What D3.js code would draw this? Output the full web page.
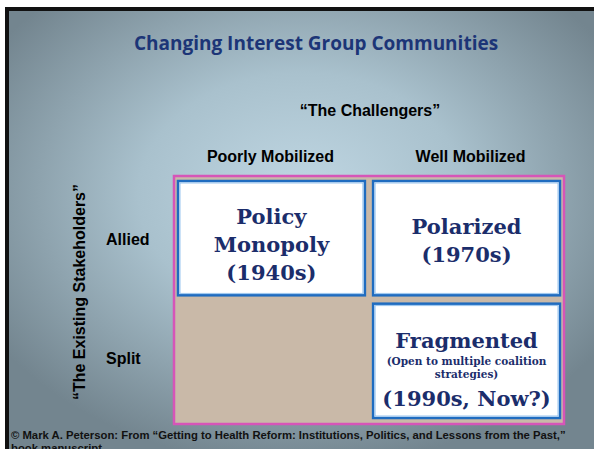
<!DOCTYPE html>
<html>
<head>
<meta charset="utf-8">
<script src="https://cdn.jsdelivr.net/npm/d3@7"></script>
<style>
  body { margin: 0; background: #fff; }
  svg { display: block; }
</style>
</head>
<body>
<svg width="594" height="449"></svg>
<script>
// chart content
const titleText = "Changing Interest Group Communities";
const colTitle = "\u201CThe Challengers\u201D";
const rowTitle = "\u201CThe Existing Stakeholders\u201D";
const columns = ["Poorly Mobilized", "Well Mobilized"];
const rows = ["Allied", "Split"];
const cells = [
  { row: "Allied", col: "Poorly Mobilized", lines: ["Policy", "Monopoly", "(1940s)"], note: [] },
  { row: "Allied", col: "Well Mobilized", lines: ["Polarized", "(1970s)"], note: [] },
  { row: "Split", col: "Well Mobilized", lines: ["Fragmented", "(1990s, Now?)"], note: ["(Open to multiple coalition", "strategies)"] }
];
const footerLines = [
  "\u00A9 Mark A. Peterson:  From \u201CGetting to Health Reform: Institutions, Politics, and Lessons from the Past,\u201D",
  "book manuscript"
];

const svg = d3.select('svg');
const width = +svg.attr('width');
const height = +svg.attr('height');

const defs = svg.append('defs');
const grad = defs.append('radialGradient')
    .attr('id', 'bg')
    .attr('cx', '50%').attr('cy', '42%').attr('r', '62%');
grad.append('stop').attr('offset', '0%').attr('stop-color', '#c0d7e3');
grad.append('stop').attr('offset', '45%').attr('stop-color', '#a9c1cd');
grad.append('stop').attr('offset', '100%').attr('stop-color', '#73858f');

// slide frame
svg.append('rect').attr('x', 5).attr('y', 7).attr('width', width - 5).attr('height', height - 7).attr('fill', '#111');
svg.append('rect').attr('x', 9).attr('y', 11).attr('width', width - 9).attr('height', height - 11).attr('fill', 'url(#bg)');

const sans = "'Liberation Sans', Arial, sans-serif";
const serif = "'DejaVu Serif', serif";
const navy = '#1b2d6b';

svg.append('text')
    .attr('x', 316).attr('y', 50)
    .attr('text-anchor', 'middle')
    .style('font-family', "'Open Sans', sans-serif")
    .style('font-size', '19px')
    .style('font-weight', 'bold')
    .attr('fill', '#1c3577')
    .text(titleText);

const xScale = d3.scaleBand().domain(columns).range([178, 560]).paddingInner(0.042);
const yScale = d3.scaleBand().domain(rows).range([181, 418]).paddingInner(0.068);

const colCenter = d => xScale(d) + xScale.bandwidth() / 2;

svg.append('text')
    .attr('x', (colCenter(columns[0]) + colCenter(columns[1])) / 2 + 1)
    .attr('y', 116)
    .attr('text-anchor', 'middle')
    .style('font-family', sans).style('font-size', '16px').style('font-weight', 'bold')
    .text(colTitle);

svg.selectAll('.col-label')
    .data(columns)
    .enter().append('text')
    .attr('class', 'col-label')
    .attr('x', (d, i) => colCenter(d) + (i === 0 ? -1 : 4))
    .attr('y', 162)
    .attr('text-anchor', 'middle')
    .style('font-family', sans).style('font-size', '16px').style('font-weight', 'bold')
    .text(d => d);

svg.selectAll('.row-label')
    .data(rows)
    .enter().append('text')
    .attr('class', 'row-label')
    .attr('x', 106)
    .attr('y', (d, i) => yScale(d) + yScale.bandwidth() / 2 + (i === 0 ? 7 : 3))
    .style('font-family', sans).style('font-size', '16px').style('font-weight', 'bold')
    .text(d => d);

svg.append('text')
    .attr('transform', 'translate(85,292) rotate(-90)')
    .attr('text-anchor', 'middle')
    .style('font-family', sans).style('font-size', '16px').style('font-weight', 'bold')
    .text(rowTitle);

// grid box
svg.append('rect')
    .attr('x', 174).attr('y', 176).attr('width', 390).attr('height', 248)
    .attr('fill', '#c9b9a8')
    .attr('stroke', '#d655b8').attr('stroke-width', 2.5);

const cellG = svg.selectAll('.cell')
    .data(cells)
    .enter().append('g')
    .attr('class', 'cell')
    .attr('transform', d => `translate(${xScale(d.col)},${yScale(d.row)})`);

cellG.append('rect')
    .attr('width', xScale.bandwidth())
    .attr('height', yScale.bandwidth())
    .attr('fill', '#fff')
    .attr('stroke', '#1f6cc0').attr('stroke-width', 2.5);

cellG.append('rect')
    .attr('x', 2).attr('y', 2)
    .attr('width', xScale.bandwidth() - 4)
    .attr('height', yScale.bandwidth() - 4)
    .attr('fill', 'none')
    .attr('stroke', '#7fb6ea').attr('stroke-width', 0.8);

cellG.each(function(d) {
    const g = d3.select(this);
    const cx = xScale.bandwidth() / 2;
    const t = g.append('g')
        .attr('text-anchor', 'middle')
        .attr('fill', navy)
        .style('font-family', serif)
        .style('font-weight', 'bold');
    if (d.note.length === 0) {
        const lh = 28;
        const shift = d.lines.length === 3 ? 14 : 10;
        const start = yScale.bandwidth() / 2 - (d.lines.length - 1) * lh / 2 + shift;
        d.lines.forEach((line, i) => {
            t.append('text').attr('x', cx).attr('y', start + i * lh)
                .style('font-size', '21px').text(line);
        });
    } else {
        t.append('text').attr('x', cx).attr('y', 44).style('font-size', '21px').text(d.lines[0]);
        d.note.forEach((line, i) => {
            t.append('text').attr('x', cx).attr('y', 61 + i * 13)
                .style('font-size', '10.5px').text(line);
        });
        t.append('text').attr('x', cx).attr('y', 102).style('font-size', '21px').text(d.lines[1]);
    }
});

svg.selectAll('.footer')
    .data(footerLines)
    .enter().append('text')
    .attr('class', 'footer')
    .attr('x', 11)
    .attr('y', (d, i) => 439 + i * 13)
    .style('font-family', sans).style('font-size', '11.3px').style('font-weight', 'bold')
    .attr('fill', '#111')
    .text(d => d);
</script>
</body>
</html>
